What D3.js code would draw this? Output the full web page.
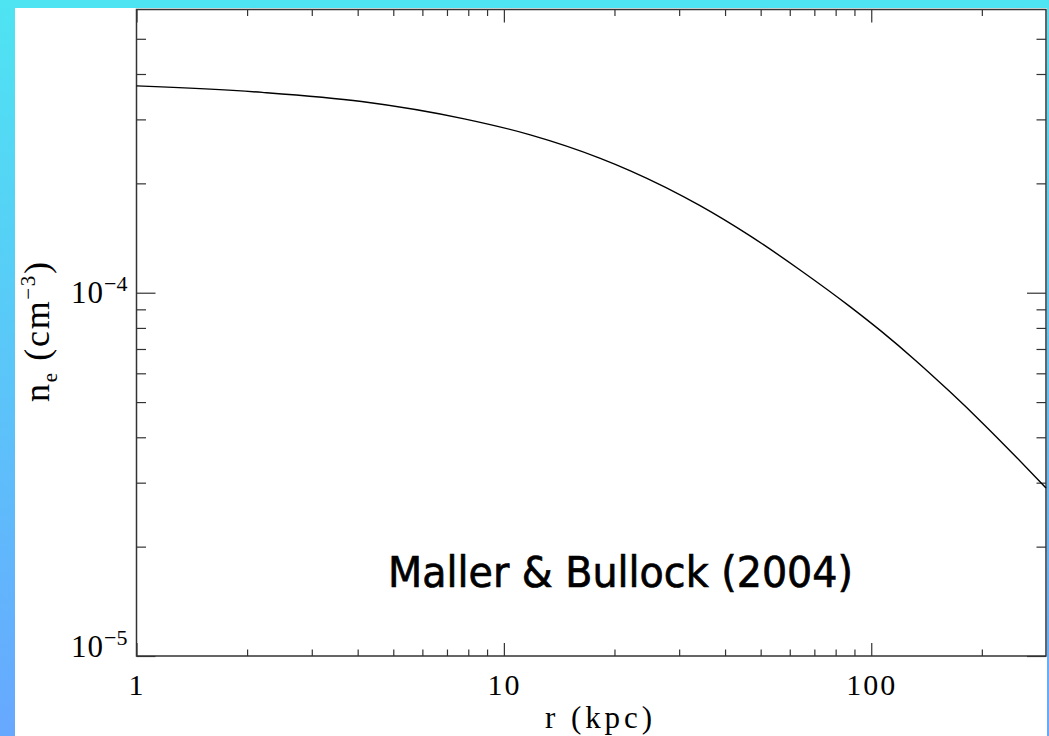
<!DOCTYPE html>
<html>
<head>
<meta charset="utf-8">
<script src="https://cdn.jsdelivr.net/npm/d3@7"></script>
<style>
  body { margin: 0; }
  svg { display: block; }
</style>
</head>
<body>
<div id="chart"></div>
<script>
// Electron density profile n_e(r)
const radius  = [1, 2.2, 4.1, 7.8, 11.8, 18.3, 22.1, 34.2, 46.8, 64, 87, 107, 132, 163, 201, 248, 299];
const density = [3.71e-4, 3.56e-4, 3.36e-4, 3.01e-4, 2.72e-4, 2.344e-4, 2.166e-4, 1.737e-4, 1.434e-4,
                 1.155e-4, 9.2e-5, 7.8e-5, 6.51e-5, 5.36e-5, 4.375e-5, 3.53e-5, 2.9e-5];

const xMajor = [1, 10, 100];
const xMinor = [2, 3, 4, 5, 6, 7, 8, 9, 20, 30, 40, 50, 60, 70, 80, 90, 200];
const yMajor = [1e-5, 1e-4];
const yMajorExp = ["\u22125", "\u22124"];
const yMinor = [2e-5, 3e-5, 4e-5, 5e-5, 6e-5, 7e-5, 8e-5, 9e-5, 2e-4, 3e-4, 4e-4, 5e-4];

const W = 1049, H = 736;
const plotL = 136.5, plotR = 1046, plotT = 9.5, plotB = 656;

const svg = d3.select("#chart").append("svg")
  .attr("width", W)
  .attr("height", H);

// fond dégradé
const grad = svg.append("defs").append("linearGradient")
  .attr("id", "bg").attr("x1", 0).attr("y1", 0).attr("x2", 0).attr("y2", 1);
grad.append("stop").attr("offset", "0%").attr("stop-color", "#4ee4f2");
grad.append("stop").attr("offset", "100%").attr("stop-color", "#67a8ff");
svg.append("rect").attr("width", W).attr("height", H).attr("fill", "url(#bg)");
svg.append("rect").attr("x", 15).attr("y", 8).attr("width", 1032).attr("height", H - 8).attr("fill", "white");

const x = d3.scaleLog().domain([1, 299]).range([plotL, plotR]);
const y = d3.scaleLog().domain([1e-5, 6.02e-4]).range([plotB, plotT]);

const serif = "'Liberation Serif', 'DejaVu Serif', serif";

// axes : ticks vers l'intérieur
function tickAxis(axis, tr) {
  const g = svg.append("g").attr("transform", tr).call(axis);
  g.select(".domain").remove();
  g.selectAll("line").attr("stroke", "#333").attr("stroke-width", 1.2);
  return g;
}
tickAxis(d3.axisBottom(x).tickValues(xMinor).tickSize(-6.5).tickFormat(""), `translate(0,${plotB})`);
tickAxis(d3.axisTop(x).tickValues(xMinor).tickSize(-6.5).tickFormat(""), `translate(0,${plotT})`);
tickAxis(d3.axisTop(x).tickValues(xMajor).tickSize(-13).tickFormat(""), `translate(0,${plotT})`);
const xg = tickAxis(d3.axisBottom(x).tickValues(xMajor).tickSize(-13).tickFormat(d3.format("d")), `translate(0,${plotB})`);
xg.selectAll("text")
  .attr("y", 39).attr("dy", 0)
  .attr("fill", "black")
  .style("font-family", serif).style("font-size", "30px")
  .style("letter-spacing", "2px");

tickAxis(d3.axisLeft(y).tickValues(yMinor).tickSize(-9.5).tickFormat(""), `translate(${plotL},0)`);
tickAxis(d3.axisRight(y).tickValues(yMinor).tickSize(-9.5).tickFormat(""), `translate(${plotR},0)`);
tickAxis(d3.axisRight(y).tickValues(yMajor).tickSize(-19).tickFormat(""), `translate(${plotR},0)`);
const yg = tickAxis(d3.axisLeft(y).tickValues(yMajor).tickSize(-19).tickFormat(""), `translate(${plotL},0)`);
yg.selectAll(".tick").each(function(d, i) {
  const t = d3.select(this).select("text")
    .attr("x", -9).attr("dy", 0)
    .attr("y", i === 0 ? 0 : 10)
    .attr("text-anchor", "end")
    .attr("fill", "black")
    .style("font-family", serif).style("font-size", "31px");
  t.append("tspan").style("letter-spacing", "1px").text("10");
  t.append("tspan").attr("dy", -12).style("font-size", "22px").text(yMajorExp[i]);
});

// cadre
svg.append("rect")
  .attr("x", plotL).attr("y", plotT)
  .attr("width", plotR - plotL).attr("height", plotB - plotT)
  .attr("fill", "none").attr("stroke", "#333").attr("stroke-width", 1.5);

// courbe
const line = d3.line()
  .x((d, i) => x(radius[i]))
  .y(d => y(d))
  .curve(d3.curveMonotoneX);
svg.append("path")
  .datum(density)
  .attr("d", line)
  .attr("fill", "none")
  .attr("stroke", "black")
  .attr("stroke-width", 1.4);

// titres des axes
svg.append("text")
  .attr("x", 545).attr("y", 728)
  .attr("textLength", 107).attr("lengthAdjust", "spacing")
  .style("font-family", serif).style("font-size", "31px")
  .text("r (kpc)");

const yl = svg.append("text")
  .attr("transform", "translate(49,402) rotate(-90)")
  .attr("textLength", 140).attr("lengthAdjust", "spacing")
  .style("font-family", serif).style("font-size", "36px");
yl.append("tspan").text("n");
yl.append("tspan").attr("dy", 8).style("font-size", "21px").text("e");
yl.append("tspan").attr("dy", -8).text(" (cm");
yl.append("tspan").attr("dy", -14).style("font-size", "21px").text("\u22123");
yl.append("tspan").attr("dy", 14).text(")");

// annotation
svg.append("text")
  .attr("x", 388).attr("y", 587)
  .attr("textLength", 465).attr("lengthAdjust", "spacingAndGlyphs")
  .attr("stroke", "black").attr("stroke-width", 0.7)
  .style("font-family", "'DejaVu Sans', sans-serif").style("font-size", "42px")
  .text("Maller & Bullock (2004)");
</script>
</body>
</html>
